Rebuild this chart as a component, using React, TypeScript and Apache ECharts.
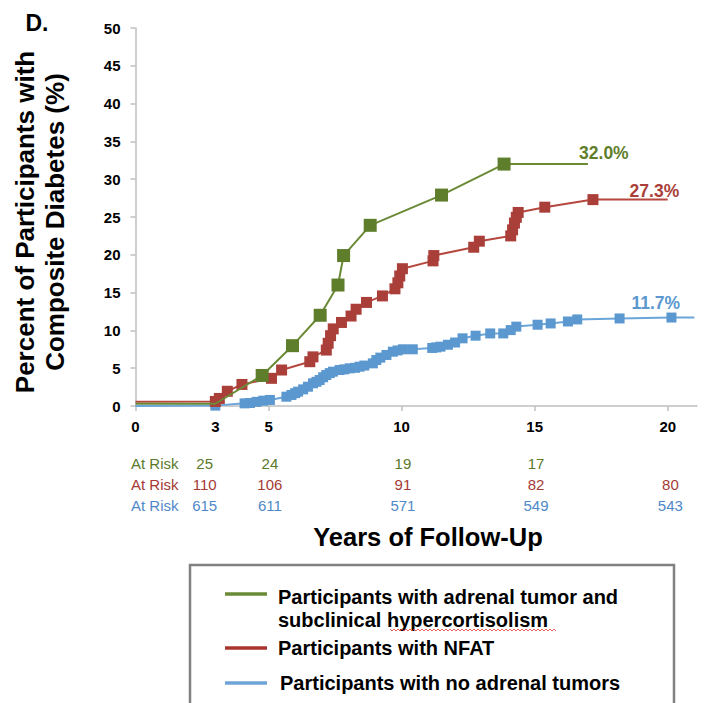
import React, { useEffect, useRef } from "react";
import * as echarts from "echarts";

const FONT = "'Liberation Sans', Arial, Helvetica, sans-serif";

// Axis ticks / labels
const xTickLabels = [0, 3, 5, 10, 15, 20];
const xTickValues = [0, 5, 10, 15, 20];

// Participants with adrenal tumor and subclinical hypercortisolism (green)
const greenYears = [0, 3.0, 4.76, 5.9, 6.94, 7.61, 7.82, 8.82, 11.5, 13.85, 17.0];
const greenPct = [0.3, 0.3, 4.04, 7.98, 12.0, 16.0, 19.9, 23.9, 27.9, 32.0, 32.0];

// Participants with NFAT (red)
const redYears = [0, 3.0, 3.15, 3.45, 4.0, 5.11, 5.49, 6.55, 6.67, 7.17, 7.24, 7.33, 7.43, 7.74, 8.1, 8.29, 8.68, 9.28, 9.75, 9.86, 9.93, 10.03, 11.18, 11.21, 12.71, 12.92, 14.1, 14.17, 14.24, 14.31, 14.38, 15.38, 17.19, 20.0];
const redPct = [0.55, 0.6, 1.0, 1.95, 2.85, 3.66, 4.76, 5.86, 6.5, 7.4, 8.3, 9.3, 10.2, 11.05, 11.9, 12.8, 13.7, 14.56, 15.5, 16.3, 17.2, 18.16, 19.2, 19.9, 21.0, 21.8, 22.5, 23.3, 24.2, 24.96, 25.6, 26.3, 27.3, 27.3];

// Participants with no adrenal tumors (blue)
const blueYears = [0, 3.0, 4.1, 4.3, 4.55, 4.8, 5.05, 5.67, 5.86, 6.0, 6.11, 6.3, 6.48, 6.67, 6.8, 6.92, 7.05, 7.17, 7.3, 7.42, 7.67, 7.85, 8.05, 8.25, 8.42, 8.6, 8.92, 9.05, 9.2, 9.43, 9.67, 9.85, 10.05, 10.42, 11.15, 11.3, 11.46, 11.74, 12.01, 12.29, 12.78, 13.33, 13.82, 14.1, 14.31, 15.11, 15.6, 16.25, 16.6, 18.19, 20.14, 21.0];
const bluePct = [0, 0.05, 0.35, 0.4, 0.55, 0.7, 0.8, 1.23, 1.46, 1.7, 1.9, 2.2, 2.55, 3.0, 3.2, 3.44, 3.8, 4.1, 4.35, 4.54, 4.76, 4.85, 4.98, 5.05, 5.2, 5.35, 5.64, 6.08, 6.4, 6.75, 7.18, 7.35, 7.5, 7.5, 7.68, 7.75, 7.85, 8.1, 8.4, 8.95, 9.3, 9.6, 9.6, 10.04, 10.5, 10.75, 10.92, 11.18, 11.45, 11.58, 11.7, 11.7];

// At-risk table
const atRiskYears = [2.6, 5.05, 10.05, 15.05, 20.1];
const atRiskGreen = ["25", "24", "19", "17", ""];
const atRiskRed = ["110", "106", "91", "82", "80"];
const atRiskBlue = ["615", "611", "571", "549", "543"];

// End-of-curve percentage labels
const endLabelTexts = ["32.0%", "27.3%", "11.7%"];
const endLabelAnchors = [[17.6, 33.5], [19.5, 28.4], [19.55, 13.6]];

const legendTexts = [
  "Participants with adrenal tumor and\nsubclinical hypercortisolism",
  "Participants with NFAT",
  "Participants with no adrenal tumors",
];

const GREEN = "#5f7e2c";
const GREEN_LINE = "#6a8a36";
const RED = "#aa3f3a";
const RED_LINE = "#b5473f";
const BLUE = "#5b98cf";
const BLUE_LINE = "#6aa6da";

function buildData(years: number[], pct: number[], first: number, last: number) {
  return years.map((x, i) => ({
    value: [x, pct[i]],
    symbol: i >= first && i <= last ? "rect" : "none",
  }));
}

export default function App() {
  const ref = useRef<HTMLDivElement>(null);

  useEffect(() => {
    if (!ref.current) return;
    const chart = echarts.init(ref.current, null, { renderer: "svg" });

    const axisGray = "#bfbfbf";
    const option: any = {
      animation: false,
      backgroundColor: "#ffffff",
      grid: { left: 135.5, right: 22, top: 28, bottom: 297, containLabel: false },
      xAxis: {
        type: "value",
        min: 0,
        max: 21.1,
        axisLine: { show: true, lineStyle: { color: axisGray, width: 1.5 } },
        axisTick: { show: true, customValues: xTickValues, length: 5, lineStyle: { color: axisGray, width: 1.5 } },
        axisLabel: {
          customValues: xTickLabels,
          fontSize: 15,
          fontWeight: "bold",
          color: "#000",
          fontFamily: FONT,
          margin: 13,
        },
        splitLine: { show: false },
      },
      yAxis: {
        type: "value",
        min: 0,
        max: 50,
        interval: 5,
        axisLine: { show: true, lineStyle: { color: axisGray, width: 1.5 } },
        axisTick: { show: true, length: 5, lineStyle: { color: axisGray, width: 1.5 } },
        axisLabel: {
          fontSize: 15,
          fontWeight: "bold",
          color: "#000",
          fontFamily: FONT,
          margin: 15,
        },
        splitLine: { show: false },
      },
      series: [
        {
          name: "no adrenal tumors",
          type: "line",
          data: buildData(blueYears, bluePct, 1, blueYears.length - 2),
          symbolSize: 10,
          lineStyle: { color: BLUE_LINE, width: 2 },
          itemStyle: { color: BLUE },
          z: 2,
        },
        {
          name: "NFAT",
          type: "line",
          data: buildData(redYears, redPct, 1, redYears.length - 2),
          symbolSize: 11,
          lineStyle: { color: RED_LINE, width: 2 },
          itemStyle: { color: RED },
          z: 3,
        },
        {
          name: "hypercortisolism",
          type: "line",
          data: buildData(greenYears, greenPct, 2, greenYears.length - 2),
          symbolSize: 13,
          lineStyle: { color: GREEN_LINE, width: 2 },
          itemStyle: { color: GREEN },
          z: 4,
        },
      ],
    };
    chart.setOption(option);

    const graphics: any[] = [];

    // Panel letter
    graphics.push({
      type: "text",
      x: 37,
      y: 23,
      style: { text: "D.", font: `bold 23px ${FONT}`, fill: "#000", textAlign: "center", textVerticalAlign: "middle" },
    });

    // Y axis title
    graphics.push({
      type: "text",
      x: 40,
      y: 222,
      rotation: Math.PI / 2,
      style: {
        text: "Percent of Participants with\nComposite Diabetes (%)",
        font: `bold 26px ${FONT}`,
        lineHeight: 30,
        fill: "#000",
        textAlign: "center",
        textVerticalAlign: "middle",
      },
    });

    // X axis title
    graphics.push({
      type: "text",
      x: 428,
      y: 537,
      style: {
        text: "Years of Follow-Up",
        font: `bold 25.5px ${FONT}`,
        fill: "#000",
        textAlign: "center",
        textVerticalAlign: "middle",
      },
    });

    // End labels
    const endColors = [GREEN, RED, BLUE];
    endLabelTexts.forEach((t, i) => {
      const p = chart.convertToPixel({ gridIndex: 0 }, endLabelAnchors[i]) as number[];
      graphics.push({
        type: "text",
        x: p[0],
        y: p[1],
        style: { text: t, font: `bold 17.5px ${FONT}`, fill: endColors[i], textAlign: "center", textVerticalAlign: "middle" },
      });
    });

    // At-risk table
    const rows = [
      { vals: atRiskGreen, color: "#5a7a2a", y: 463 },
      { vals: atRiskRed, color: "#a53a35", y: 484 },
      { vals: atRiskBlue, color: "#4f88c8", y: 505 },
    ];
    rows.forEach((r) => {
      graphics.push({
        type: "text",
        x: 131,
        y: r.y,
        style: { text: "At Risk", font: `15px ${FONT}`, fill: r.color, textAlign: "left", textVerticalAlign: "middle" },
      });
      r.vals.forEach((v, j) => {
        if (!v) return;
        const p = chart.convertToPixel({ gridIndex: 0 }, [atRiskYears[j], 0]) as number[];
        graphics.push({
          type: "text",
          x: p[0],
          y: r.y,
          style: { text: v, font: `15px ${FONT}`, fill: r.color, textAlign: "center", textVerticalAlign: "middle" },
        });
      });
    });

    // Legend box
    graphics.push({
      type: "rect",
      shape: { x: 190, y: 565, width: 484, height: 160 },
      style: { fill: "#fff", stroke: "#808080", lineWidth: 2.5 },
      z: 1,
    });
    const legendColors = [GREEN_LINE, "#a8342e", "#6fa3d6"];
    const legendLineY = [594, 648, 683];
    const legendTextY = [608, 648, 683];
    const legendTextX = [278, 278, 280];
    legendTexts.forEach((t, i) => {
      graphics.push({
        type: "line",
        shape: { x1: 225, y1: legendLineY[i], x2: 267, y2: legendLineY[i] },
        style: { stroke: legendColors[i], lineWidth: 3.5 },
        z: 2,
      });
      graphics.push({
        type: "text",
        x: legendTextX[i],
        y: legendTextY[i],
        style: {
          text: t,
          font: `bold 20px ${FONT}`,
          lineHeight: 23,
          fill: "#000",
          textAlign: "left",
          textVerticalAlign: "middle",
        },
        z: 2,
      });
    });

    // spell-check squiggle under "hypercortisolism"
    const squiggle: number[][] = [];
    for (let x = 390, k = 0; x <= 557; x += 2, k++) {
      squiggle.push([x, 630 + (k % 2 === 0 ? -1 : 1)]);
    }
    graphics.push({
      type: "polyline",
      shape: { points: squiggle },
      style: { stroke: "#e23a3a", lineWidth: 0.8, fill: null },
      z: 3,
    });

    chart.setOption({ graphic: graphics });

    return () => chart.dispose();
  }, []);

  return (
    <div
      ref={ref}
      style={{ position: "fixed", left: 0, top: 0, width: 719, height: 703, background: "#fff" }}
    />
  );
}
